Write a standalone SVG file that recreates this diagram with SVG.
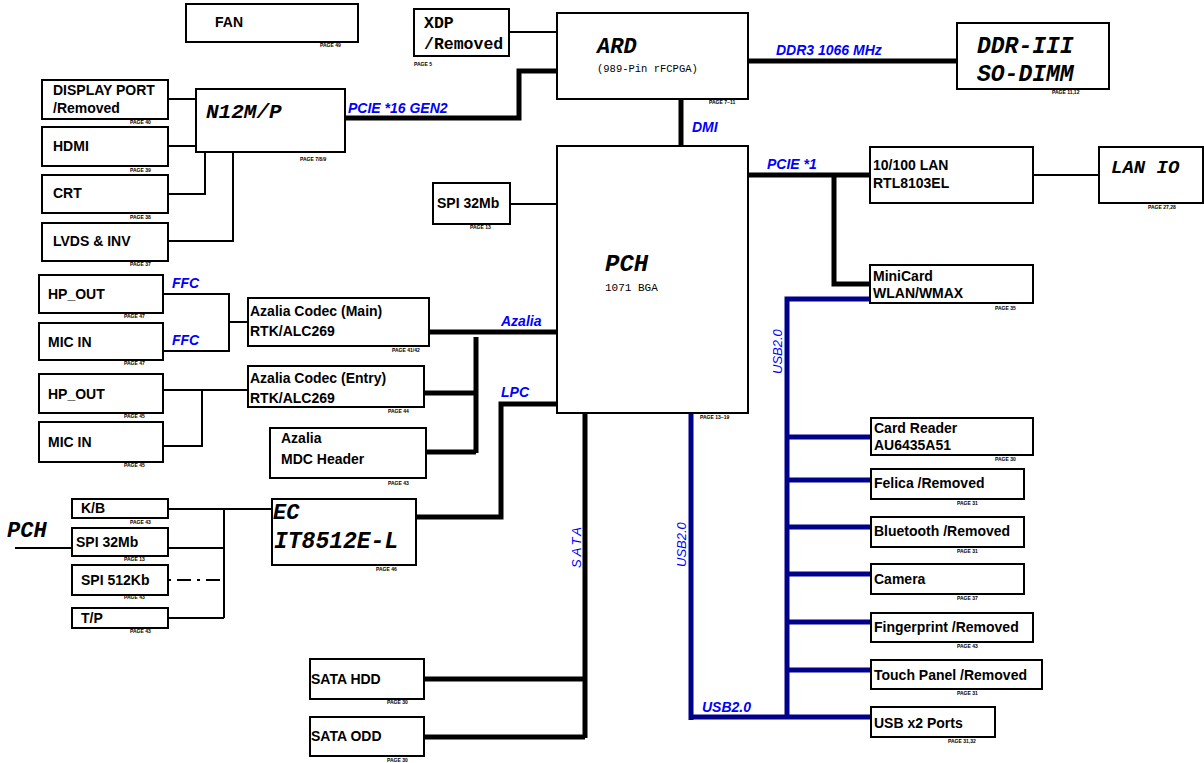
<svg xmlns="http://www.w3.org/2000/svg" width="1204" height="763" viewBox="0 0 1204 763">
<style>
.b{fill:#fff;stroke:#000;stroke-width:2}
.t{font-family:"Liberation Sans",Arial,sans-serif;font-weight:bold;font-size:14px;fill:#000}
.m{font-family:"Liberation Mono","Courier New",monospace;font-style:italic;font-weight:bold;fill:#000}
.mn{font-family:"Liberation Mono","Courier New",monospace;fill:#000}
.bl{font-family:"Liberation Sans",Arial,sans-serif;font-weight:bold;font-style:italic;font-size:14px;fill:#0000FF}
.rv{font-family:"Liberation Sans",Arial,sans-serif;font-size:13px;font-style:italic;fill:#0000FF}
.pg{font-family:"Liberation Sans",Arial,sans-serif;font-size:5px;font-weight:bold;fill:#000}
.th{stroke:#000;stroke-width:2;fill:none}
.tk{stroke:#000;stroke-width:5;fill:none}
.u{stroke:#00008B;stroke-width:5;fill:none}
</style>
<rect width="1204" height="763" fill="#fff"/>
<g id="connectors">
<path class="th" d="M168 99H196M168 146H196M168 194H205V152M168 241H233V152"/>
<path class="tk" d="M345 118H519V71H557"/>
<path class="th" d="M509 32H557"/>
<path class="tk" d="M748 61H957"/>
<path class="tk" d="M681 99V146"/>
<path class="th" d="M510 204H557"/>
<path class="tk" d="M748 175H870M834 175V284H870"/>
<path class="th" d="M1033 175H1099"/>
<path class="u" d="M870 299H787V717M691 413V720M691 717H872M787 437H871M787 480H871M787 527H871M787 574H871M787 622H871M787 670H871"/>
<path class="th" d="M163 294H229V351H163M229 322H248"/>
<path class="th" d="M163 390H248M202 390V446H163"/>
<path class="tk" d="M429 332H564M476 337V453M424 393H476M426 452H476"/>
<path class="tk" d="M559 404H501V517H416"/>
<path class="th" d="M168 509H272M224 509V618M168 548H224M168 618H224M15 548H72"/>
<path class="th" d="M168 580H224" stroke-dasharray="3 6 14 6"/>
<path class="tk" d="M585 413V738M424 679H585M424 737H585"/>
</g>
<g id="labels">
<text class="bl" x="348" y="113">PCIE *16 GEN2</text>
<text class="bl" x="776" y="55">DDR3 1066 MHz</text>
<text class="bl" x="692" y="132">DMI</text>
<text class="bl" x="767" y="169">PCIE *1</text>
<text class="bl" x="172" y="288">FFC</text>
<text class="bl" x="172" y="345">FFC</text>
<text class="bl" x="501" y="326">Azalia</text>
<text class="bl" x="501" y="397">LPC</text>
<text class="bl" x="702" y="712">USB2.0</text>
<text class="rv" transform="translate(782 374) rotate(-90)">USB2.0</text>
<text class="rv" transform="translate(686 567) rotate(-90)">USB2.0</text>
<text class="rv" letter-spacing="3" transform="translate(581 568) rotate(-90)">SATA</text>
<text class="m" x="7" y="537" font-size="22">PCH</text>
</g>
<g id="fan"><rect class="b" x="186" y="4" width="172" height="38"/><text class="t" x="215" y="27">FAN</text><text class="pg" x="320" y="47">PAGE 49</text></g>
<g id="dp"><rect class="b" x="42" y="80" width="126" height="39"/><text class="t" x="53" y="95">DISPLAY PORT</text><text class="t" x="53" y="113">/Removed</text><text class="pg" x="130" y="124">PAGE 40</text></g>
<g id="hdmi"><rect class="b" x="42" y="127" width="126" height="39"/><text class="t" x="53" y="151">HDMI</text><text class="pg" x="130" y="172">PAGE 39</text></g>
<g id="crt"><rect class="b" x="42" y="175" width="126" height="38"/><text class="t" x="53" y="198">CRT</text><text class="pg" x="130" y="219">PAGE 38</text></g>
<g id="lvds"><rect class="b" x="42" y="223" width="126" height="38"/><text class="t" x="53" y="246">LVDS &amp; INV</text><text class="pg" x="130" y="266">PAGE 37</text></g>
<g id="n12m"><rect class="b" x="196" y="89" width="149" height="63"/><text class="m" x="206" y="118" font-size="21">N12M/P</text><text class="pg" x="300" y="161">PAGE 7/8/9</text></g>
<g id="xdp"><rect class="b" x="414" y="9" width="95" height="47"/><text class="mn" x="424" y="28" font-size="16.5" font-weight="bold">XDP</text><text class="mn" x="424" y="49" font-size="16.5" font-weight="bold">/Removed</text><text class="pg" x="414" y="66">PAGE 5</text></g>
<g id="ard"><rect class="b" x="557" y="13" width="191" height="86"/><text class="m" x="597" y="53" font-size="22">ARD</text><text class="mn" x="597" y="72" font-size="10.5">(989-Pin rFCPGA)</text><text class="pg" x="709" y="104">PAGE 7~11</text></g>
<g id="ddr"><rect class="b" x="957" y="23" width="152" height="66"/><text class="m" x="977" y="53" font-size="23">DDR-III</text><text class="m" x="977" y="81" font-size="23">SO-DIMM</text><text class="pg" x="1052" y="94">PAGE 11,12</text></g>
<g id="pch"><rect class="b" x="557" y="146" width="191" height="267"/><text class="m" x="605" y="271" font-size="24">PCH</text><text class="mn" x="605" y="291" font-size="11">1071 BGA</text><text class="pg" x="700" y="419">PAGE 13~19</text></g>
<g id="spi-top"><rect class="b" x="433" y="183" width="77" height="41"/><text class="t" x="437" y="208">SPI 32Mb</text><text class="pg" x="470" y="229">PAGE 13</text></g>
<g id="lan"><rect class="b" x="870" y="147" width="163" height="56"/><text class="t" x="873" y="170">10/100 LAN</text><text class="t" x="873" y="188">RTL8103EL</text></g>
<g id="lanio"><rect class="b" x="1099" y="147" width="104" height="56"/><text class="m" x="1111" y="173" font-size="19">LAN IO</text><text class="pg" x="1148" y="209">PAGE 27,28</text></g>
<g id="minicard"><rect class="b" x="870" y="265" width="163" height="38"/><text class="t" x="873" y="281">MiniCard</text><text class="t" x="873" y="298">WLAN/WMAX</text><text class="pg" x="995" y="310">PAGE 35</text></g>
<g id="cardreader"><rect class="b" x="871" y="418" width="162" height="37"/><text class="t" x="874" y="433">Card Reader</text><text class="t" x="874" y="450">AU6435A51</text><text class="pg" x="995" y="461">PAGE 30</text></g>
<g id="felica"><rect class="b" x="871" y="469" width="153" height="30"/><text class="t" x="874" y="488">Felica /Removed</text><text class="pg" x="957" y="505">PAGE 31</text></g>
<g id="bluetooth"><rect class="b" x="871" y="517" width="153" height="30"/><text class="t" x="874" y="536">Bluetooth /Removed</text><text class="pg" x="957" y="553">PAGE 31</text></g>
<g id="camera"><rect class="b" x="871" y="564" width="153" height="30"/><text class="t" x="874" y="584">Camera</text><text class="pg" x="957" y="600">PAGE 37</text></g>
<g id="fingerprint"><rect class="b" x="871" y="613" width="162" height="29"/><text class="t" x="874" y="632">Fingerprint /Removed</text><text class="pg" x="957" y="648">PAGE 43</text></g>
<g id="touchpanel"><rect class="b" x="871" y="660" width="171" height="29"/><text class="t" x="874" y="680">Touch Panel /Removed</text><text class="pg" x="957" y="695">PAGE 31</text></g>
<g id="usbports"><rect class="b" x="871" y="707" width="124" height="30"/><text class="t" x="874" y="728">USB x2 Ports</text><text class="pg" x="948" y="743">PAGE 31,32</text></g>
<g id="hpout1"><rect class="b" x="39" y="275" width="124" height="38"/><text class="t" x="48" y="299">HP_OUT</text><text class="pg" x="124" y="318">PAGE 47</text></g>
<g id="micin1"><rect class="b" x="39" y="323" width="124" height="37"/><text class="t" x="48" y="347">MIC IN</text><text class="pg" x="124" y="365">PAGE 47</text></g>
<g id="codec-main"><rect class="b" x="248" y="298" width="181" height="48"/><text class="t" x="250" y="316" font-size="15.5">Azalia Codec (Main)</text><text class="t" x="250" y="336" font-size="15.5">RTK/ALC269</text><text class="pg" x="392" y="352">PAGE 41/42</text></g>
<g id="codec-entry"><rect class="b" x="248" y="366" width="176" height="41"/><text class="t" x="250" y="383" font-size="15.5">Azalia Codec (Entry)</text><text class="t" x="250" y="403" font-size="15.5">RTK/ALC269</text><text class="pg" x="388" y="413">PAGE 44</text></g>
<g id="mdc"><rect class="b" x="270" y="428" width="156" height="50"/><text class="t" x="281" y="443" font-size="15.5">Azalia</text><text class="t" x="281" y="464" font-size="15.5">MDC Header</text><text class="pg" x="388" y="485">PAGE 43</text></g>
<g id="hpout2"><rect class="b" x="39" y="374" width="124" height="39"/><text class="t" x="48" y="399">HP_OUT</text><text class="pg" x="124" y="418">PAGE 45</text></g>
<g id="micin2"><rect class="b" x="39" y="422" width="124" height="40"/><text class="t" x="48" y="447">MIC IN</text><text class="pg" x="124" y="467">PAGE 45</text></g>
<g id="kb"><rect class="b" x="72" y="499" width="96" height="19"/><text class="t" x="81" y="513">K/B</text><text class="pg" x="130" y="524">PAGE 43</text></g>
<g id="spi32"><rect class="b" x="72" y="528" width="96" height="28"/><text class="t" x="76" y="547">SPI 32Mb</text><text class="pg" x="124" y="561">PAGE 13</text></g>
<g id="spi512"><rect class="b" x="72" y="565" width="96" height="30"/><text class="t" x="81" y="585">SPI 512Kb</text><text class="pg" x="124" y="599">PAGE 43</text></g>
<g id="tp"><rect class="b" x="72" y="608" width="96" height="20"/><text class="t" x="81" y="623">T/P</text><text class="pg" x="130" y="633">PAGE 43</text></g>
<g id="ec"><rect class="b" x="272" y="499" width="144" height="66"/><text class="m" x="273" y="519" font-size="22">EC</text><text class="m" x="274" y="548" font-size="23">IT8512E-L</text><text class="pg" x="376" y="571">PAGE 46</text></g>
<g id="sata-hdd"><rect class="b" x="310" y="659" width="114" height="40"/><text class="t" x="311" y="684">SATA HDD</text><text class="pg" x="387" y="704">PAGE 30</text></g>
<g id="sata-odd"><rect class="b" x="310" y="717" width="114" height="39"/><text class="t" x="311" y="741">SATA ODD</text><text class="pg" x="387" y="762">PAGE 30</text></g>
</svg>
